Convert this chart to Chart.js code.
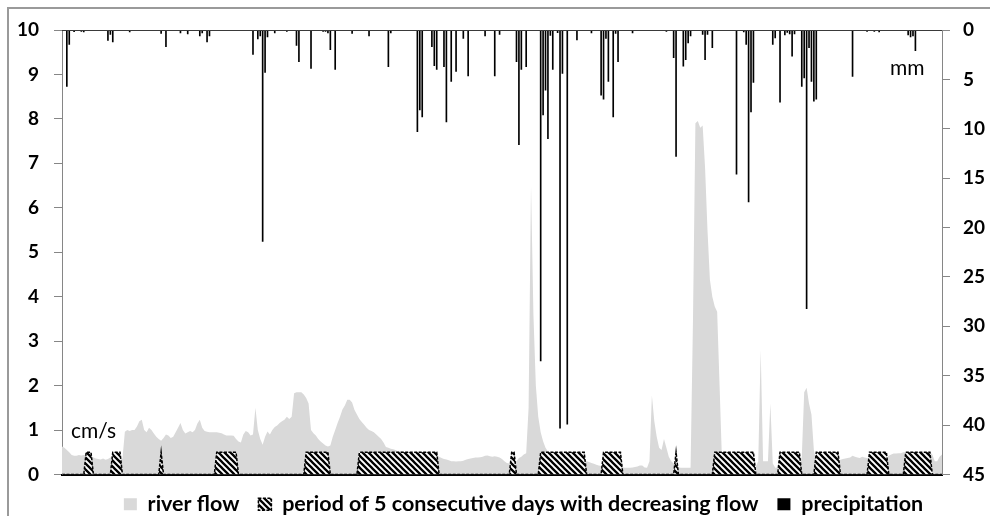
<!DOCTYPE html>
<html>
<head>
<meta charset="utf-8">
<script src="https://cdn.jsdelivr.net/npm/chart.js@4"></script>
<style>
  html, body { margin: 0; padding: 0; background: #fff; overflow: hidden; }
  #wrap { position: relative; width: 990px; height: 516px; overflow: hidden; }
  #frame { position: absolute; left: 7px; top: 7px; width: 1000px; height: 520px;
           border-top: 2px solid #9a9a9a; border-left: 2px solid #9a9a9a; pointer-events: none; }
  canvas { position: absolute; left: 0; top: 0; }
</style>
</head>
<body>
<div id="wrap">
  <canvas id="chart" width="990" height="516"></canvas>
  <div id="frame"></div>
</div>
<script>
// daily river flow (cm/s), day 0 .. 364
const flow = [
  0.63, 0.6, 0.55, 0.5, 0.44, 0.42, 0.42, 0.44, 0.43, 0.44,   // 0
  0.44, 0.42, 0.4, 0.38, 0.36, 0.35, 0.34, 0.36, 0.33, 0.35,  // 10
  0.38, 0.42, 0.4, 0.37, 0.38, 0.35, 0.96, 1.0, 0.98, 1.0,    // 20
  1.0, 1.08, 1.2, 1.23, 1.0, 0.95, 1.05, 1.0, 0.92, 0.85,     // 30
  0.8, 0.76, 0.82, 0.9, 0.88, 0.82, 0.85, 0.95, 1.05, 1.16,   // 40
  1.0, 0.92, 0.95, 0.98, 0.95, 1.0, 1.15, 1.23, 1.05, 0.98,   // 50
  0.96, 0.95, 0.95, 0.95, 0.95, 0.94, 0.93, 0.9, 0.88, 0.88,  // 60
  0.88, 0.87, 0.8, 0.74, 0.72, 0.9, 0.98, 0.95, 0.88, 0.9,    // 70
  1.5, 1.0, 0.8, 0.67, 0.85, 0.97, 0.9, 1.0, 1.07, 1.1,       // 80
  1.16, 1.2, 1.23, 1.3, 1.25, 1.3, 1.83, 1.85, 1.85, 1.85,    // 90
  1.8, 1.72, 1.6, 1.0, 0.93, 0.88, 0.8, 0.74, 0.7, 0.65,      // 100
  0.63, 0.65, 0.85, 1.0, 1.16, 1.3, 1.46, 1.55, 1.68, 1.68,   // 110
  1.62, 1.45, 1.35, 1.25, 1.18, 1.12, 1.05, 1.0, 0.98, 0.95,  // 120
  0.9, 0.85, 0.8, 0.72, 0.62, 0.6, 0.58, 0.57, 0.55, 0.52,    // 130
  0.52, 0.52, 0.5, 0.48, 0.48, 0.48, 0.48, 0.48, 0.48, 0.48,  // 140
  0.47, 0.47, 0.46, 0.45, 0.45, 0.44, 0.4, 0.37, 0.35, 0.34,  // 150
  0.32, 0.3, 0.3, 0.29, 0.3, 0.3, 0.31, 0.33, 0.35, 0.36,     // 160
  0.37, 0.38, 0.38, 0.39, 0.4, 0.42, 0.43, 0.41, 0.4, 0.41,   // 170
  0.4, 0.38, 0.35, 0.3, 0.26, 0.25, 0.25, 0.27, 0.3, 0.37,    // 180
  0.4, 0.45, 0.48, 1.5, 6.5, 3.6, 2.0, 1.3, 0.95, 0.75,       // 190
  0.6, 0.52, 0.48, 0.46, 0.45, 0.45, 0.44, 0.45, 0.44, 0.42,  // 200
  0.42, 0.4, 0.38, 0.36, 0.34, 0.32, 0.3, 0.3, 0.28, 0.26,    // 210
  0.24, 0.22, 0.2, 0.19, 0.18, 0.18, 0.18, 0.18, 0.17, 0.17,  // 220
  0.17, 0.16, 0.16, 0.15, 0.15, 0.15, 0.16, 0.17, 0.18, 0.2,  // 230
  0.2, 0.16, 0.15, 0.3, 1.78, 1.2, 0.85, 0.6, 0.55, 0.8,      // 240
  0.6, 0.4, 0.3, 0.25, 0.2, 0.16, 0.15, 0.15, 0.15, 0.15,     // 250
  0.15, 3.5, 7.9, 7.95, 7.8, 7.85, 6.9, 5.5, 4.38, 4.0,       // 260
  3.78, 3.66, 2.0, 0.3, 0.12, 0.12, 0.12, 0.12, 0.12, 0.12,   // 270
  0.12, 0.12, 0.12, 0.13, 0.14, 0.15, 0.15, 0.18, 0.3, 2.8,   // 280
  0.3, 0.3, 0.3, 1.6, 0.25, 0.15, 0.16, 0.18, 0.2, 0.2,       // 290
  0.2, 0.2, 0.2, 0.2, 0.2, 0.2, 0.4, 1.85, 1.95, 1.6,         // 300
  1.35, 0.55, 0.3, 0.28, 0.28, 0.28, 0.28, 0.3, 0.3, 0.3,     // 310
  0.32, 0.33, 0.33, 0.35, 0.36, 0.37, 0.38, 0.42, 0.4, 0.38,  // 320
  0.37, 0.4, 0.38, 0.37, 0.37, 0.36, 0.36, 0.36, 0.37, 0.37,  // 330
  0.37, 0.38, 0.42, 0.45, 0.47, 0.47, 0.48, 0.48, 0.5, 0.5,   // 340
  0.5, 0.5, 0.5, 0.5, 0.5, 0.5, 0.5, 0.5, 0.5, 0.5,           // 350
  0.45, 0.3, 0.3, 0.4, 0.45                                   // 360
];

// periods of decreasing flow: [first day, last day], drawn at 0.5
const periods = [
  [10, 12], [21, 24], [41, 41], [64, 72], [101, 110], [123, 155], [186, 187],
  [198, 216], [224, 231], [254, 254], [270, 286], [297, 305], [312, 321],
  [334, 341], [349, 359]
];
const periodLevel = 0.5;

// precipitation: [day, mm]
const rain = [
  [2, 5.7], [3, 1.45], [5, 0.17], [8, 0.15], [9, 0.2], [19, 1.05], [20, 0.45], [21, 1.2],
  [28, 0.2], [41, 0.35], [43, 1.7], [49, 0.3], [52, 0.4], [57, 0.6], [58, 0.3], [60, 1.2],
  [61, 0.6], [79, 2.46], [81, 0.9], [82, 0.6], [83, 21.4], [84, 4.3], [85, 0.7], [88, 0.3],
  [93, 0.15], [97, 1.55], [98, 3.2], [103, 3.9], [108, 0.15], [109, 0.15], [110, 0.3],
  [111, 2.0], [113, 4.0], [120, 0.35], [127, 0.6], [135, 3.7], [136, 0.3], [147, 10.3],
  [148, 8.1], [149, 8.8], [153, 1.7], [154, 3.6], [155, 4.0], [158, 3.7], [159, 9.3],
  [161, 5.2], [163, 4.2], [166, 0.85], [168, 4.65], [175, 0.6], [179, 4.65], [181, 0.45],
  [188, 3.2], [189, 11.6], [190, 4.0], [192, 3.7], [198, 33.5], [199, 8.6], [200, 6.1],
  [201, 11.0], [202, 0.55], [203, 4.0], [205, 0.27], [206, 40.3], [207, 4.4], [209, 39.9],
  [213, 1.0], [219, 0.3], [223, 6.6], [224, 7.0], [225, 0.85], [226, 5.2], [228, 8.8],
  [229, 0.35], [230, 3.2], [236, 0.3], [250, 0.15], [253, 2.8], [254, 12.8], [257, 3.65],
  [258, 3.0], [259, 1.3], [260, 0.6], [265, 0.45], [266, 3.0], [267, 0.45], [269, 1.8],
  [279, 14.6], [282, 0.2], [283, 1.45], [284, 17.4], [285, 8.3], [286, 5.3], [294, 1.45],
  [295, 0.8], [297, 7.3], [299, 0.5], [300, 0.25], [301, 0.4], [302, 2.65], [303, 0.4],
  [306, 5.7], [307, 4.85], [308, 28.2], [309, 1.8], [310, 5.2], [311, 7.2], [312, 7.0],
  [327, 4.7], [333, 0.15], [336, 0.15], [338, 0.2], [350, 0.5], [351, 0.7], [352, 0.6],
  [353, 2.1]
];

const leftTicks = { min: 0, max: 10, step: 1 };
const rightTicks = { min: 0, max: 45, step: 5 };

// build the per-day series the chart needs
const days = flow.map((v, i) => i + 1);
const periodSeries = flow.map(() => 0);
periods.forEach(([a, b]) => { for (let d = a; d <= b; d++) periodSeries[d] = periodLevel; });
const rainSeries = flow.map(() => 0);
rain.forEach(([d, mm]) => { rainSeries[d] = mm; });

// diagonal hatch fill
function hatch(){
    const s = 6;
    const c = document.createElement('canvas');
    c.width = c.height = s;
    const g = c.getContext('2d');
    g.fillStyle = '#fff';
    g.fillRect(0, 0, s, s);
    g.strokeStyle = '#000';
    g.lineWidth = 2.3;
    g.beginPath();
    for (const k of [-s, 0, s]) { g.moveTo(k - 1, -1); g.lineTo(k + s + 1, s + 1); }
    g.stroke();
    return g.createPattern(c, 'repeat');
}

// top border line and the unit labels inside the plot
const extras = {
    id: 'extras',
    afterDatasetsDraw(chart){
        const { ctx, chartArea: a } = chart;
        ctx.save();
        ctx.strokeStyle = '#3a3a3a';
        ctx.lineWidth = 1;
        ctx.beginPath();
        ctx.moveTo(a.left, a.top + 0.5);
        ctx.lineTo(a.right, a.top + 0.5);
        ctx.stroke();
        ctx.fillStyle = '#000';
        ctx.font = '21px Lato';
        ctx.textBaseline = 'alphabetic';
        ctx.fillText('cm/s', a.left + 9, a.bottom - 37);
        ctx.fillText('mm', a.right - 52, a.top + 45);
        ctx.restore();
    }
};

const axisGray = '#868686';
const tickFont = { family: 'Lato', size: 19, weight: 'bold' };

new Chart(document.getElementById('chart'), {
    data: {
        labels: days,
        datasets: [
            { type: 'line', label: 'river flow', data: flow, yAxisID: 'y',
              backgroundColor: '#d9d9d9', borderColor: 'rgba(0,0,0,0)', borderWidth: 0,
              fill: 'origin', pointRadius: 0, tension: 0, order: 3 },
            { type: 'line', label: 'period of 5 consecutive days with decreasing flow', data: periodSeries, yAxisID: 'y',
              backgroundColor: hatch(), borderColor: '#000', borderWidth: 1.5, borderDash: [3, 1.5],
              fill: 'origin', pointRadius: 0, tension: 0, order: 2 },
            { type: 'bar', label: 'precipitation', data: rainSeries, yAxisID: 'y2',
              backgroundColor: '#000', borderWidth: 0, barThickness: 1, order: 1 }
        ]
    },
    options: {
        responsive: false,
        animation: false,
        // right padding is negative so the full-width legend sits where the original one does
        layout: { padding: { left: 0, right: -57, top: 30, bottom: 0 } },
        plugins: {
            tooltip: { enabled: false },
            legend: {
                position: 'bottom',
                maxHeight: 41.5,
                labels: { color: '#000', font: { family: 'Lato', size: 21.5, weight: 'bold' },
                          boxWidth: 13, boxHeight: 12, padding: 19,
                          sort: (a, b) => a.datasetIndex - b.datasetIndex }
            }
        },
        scales: {
            x: {
                type: 'category', offset: false,
                ticks: { display: false },
                grid: { display: false, drawTicks: false },
                border: { display: true, color: '#000', width: 2 },
                afterFit(s){ s.height = 0; }
            },
            y: {
                position: 'left', min: leftTicks.min, max: leftTicks.max,
                ticks: { stepSize: leftTicks.step, color: '#000', font: tickFont, padding: 15 },
                grid: { drawOnChartArea: false, drawTicks: true, tickLength: 8, color: axisGray },
                border: { display: true, color: axisGray, width: 1 },
                afterFit(s){ s.width = 62; }
            },
            y2: {
                position: 'right', reverse: true, min: rightTicks.min, max: rightTicks.max,
                ticks: { stepSize: rightTicks.step, color: '#000', font: tickFont, padding: 13 },
                grid: { drawOnChartArea: false, drawTicks: true, tickLength: 8, color: axisGray },
                border: { display: true, color: axisGray, width: 1 },
                afterFit(s){ s.width = 105; }
            }
        }
    },
    plugins: [extras]
});
</script>
</body>
</html>
